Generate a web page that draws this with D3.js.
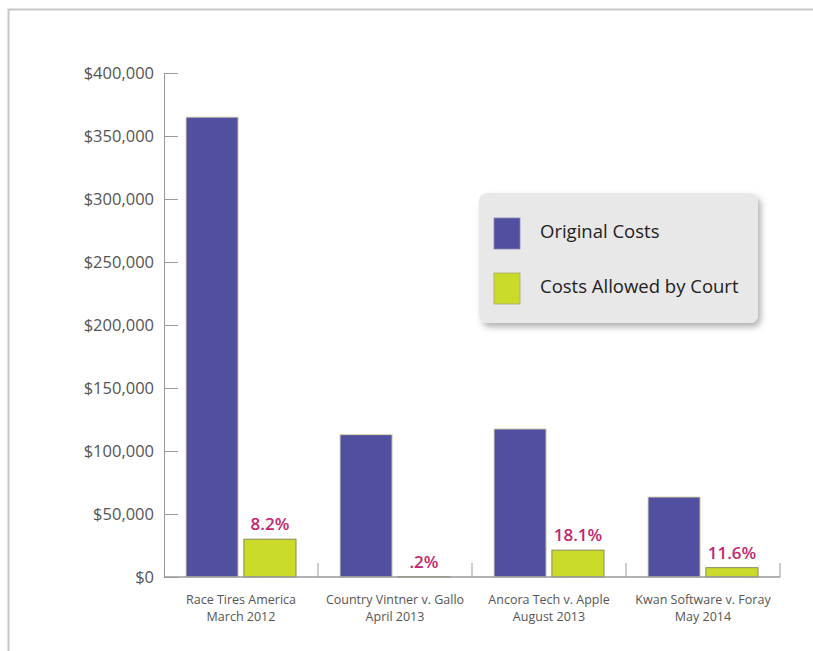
<!DOCTYPE html>
<html>
<head>
<meta charset="utf-8">
<script src="https://cdn.jsdelivr.net/npm/d3@7"></script>
<style>
  body { margin: 0; background: #fff; }
  text { font-family: "Open Sans", sans-serif; }
</style>
</head>
<body>
<div id="chart"></div>
<script>
  // data
  var cases = ["Race Tires America", "Country Vintner v. Gallo", "Ancora Tech v. Apple", "Kwan Software v. Foray"];
  var dates = ["March 2012", "April 2013", "August 2013", "May 2014"];
  var original = [365000, 113000, 117500, 63500];
  var allowed = [30000, 230, 21300, 7400];
  var pctLabels = ["8.2%", ".2%", "18.1%", "11.6%"];
  var seriesNames = ["Original Costs", "Costs Allowed by Court"];
  var yTicks = [0, 50000, 100000, 150000, 200000, 250000, 300000, 350000, 400000];

  var colors = {orig: "#514fa0", allowed: "#cbdb2a"};

  var W = 813, H = 651;
  var margin = {top: 73, left: 164, right: 34, bottom: 74};
  var width = W - margin.left - margin.right,
      height = H - margin.top - margin.bottom;

  var svg = d3.select("#chart").append("svg")
      .attr("width", W)
      .attr("height", H);

  var defs = svg.append("defs");
  var f = defs.append("filter").attr("id", "shadow")
      .attr("x", "-10%").attr("y", "-10%").attr("width", "130%").attr("height", "140%");
  f.append("feDropShadow").attr("dx", 3).attr("dy", 4).attr("stdDeviation", 3)
      .attr("flood-color", "#000").attr("flood-opacity", 0.3);

  // outer frame (top and left only)
  svg.append("path")
      .attr("d", "M8.5,651V9.5H813")
      .attr("fill", "none").attr("stroke", "#c8c8c8").attr("stroke-width", 2);

  var g = svg.append("g")
      .attr("transform", "translate(" + margin.left + "," + margin.top + ")");

  var x = d3.scaleBand().domain(cases).range([0, width + 1]);
  var x1 = d3.scaleBand().domain(["orig", "allowed"])
      .range([22, x.bandwidth() - 22]).paddingInner(0.1);
  var y = d3.scaleLinear().domain([0, 400000]).range([height, 0]);

  // y axis
  var yAxis = g.append("g")
      .call(d3.axisLeft(y).tickValues(yTicks).tickSize(0).tickPadding(10)
        .tickFormat(function (d) { return "$" + d3.format(",")(d); }));
  yAxis.select(".domain").attr("stroke", "#9a9a9a");
  yAxis.selectAll(".tick text")
      .attr("font-size", 16.5).attr("fill", "#555")
      .attr("font-family", "'Open Sans', sans-serif")
      .attr("dy", "0.35em");
  yAxis.selectAll(".tick").append("line")
      .attr("x1", 0).attr("x2", 14).attr("stroke", "#9a9a9a");

  // bars
  var groups = g.selectAll(".grp")
    .data(cases)
    .enter().append("g")
      .attr("transform", function (d) { return "translate(" + x(d) + ",0)"; });

  groups.append("rect")
      .attr("x", x1("orig"))
      .attr("width", x1.bandwidth())
      .attr("y", function (d, i) { return y(original[i]); })
      .attr("height", function (d, i) { return height - y(original[i]); })
      .attr("fill", colors.orig)
      .attr("stroke", "#d8d8b0").attr("stroke-width", 1);

  groups.append("rect")
      .attr("x", x1("allowed"))
      .attr("width", x1.bandwidth())
      .attr("y", function (d, i) { return y(allowed[i]); })
      .attr("height", function (d, i) { return height - y(allowed[i]); })
      .attr("fill", colors.allowed)
      .attr("stroke", "#8a8a5a").attr("stroke-width", 1);

  groups.append("text")
      .attr("x", x1("allowed") + x1.bandwidth() / 2)
      .attr("y", function (d, i) { return y(allowed[i]) - 9; })
      .attr("text-anchor", "middle")
      .attr("font-size", 17).attr("font-weight", 600)
      .attr("fill", "#c2266e")
      .text(function (d, i) { return pctLabels[i]; });

  // x axis
  g.append("line")
      .attr("x1", 0).attr("x2", width + 1)
      .attr("y1", height).attr("y2", height)
      .attr("stroke", "#9a9a9a").attr("stroke-width", 1.5);
  g.selectAll(".sep")
    .data(cases)
    .enter().append("line")
      .attr("x1", function (d) { return x(d) + x.bandwidth(); })
      .attr("x2", function (d) { return x(d) + x.bandwidth(); })
      .attr("y1", height).attr("y2", height - 14)
      .attr("stroke", "#9a9a9a");

  var lab = g.selectAll(".lab")
    .data(cases)
    .enter().append("text")
      .attr("text-anchor", "middle")
      .attr("font-size", 12.5).attr("fill", "#555")
      .attr("transform", function (d) { return "translate(" + (x(d) + x.bandwidth() / 2) + "," + (height + 27) + ")"; });
  lab.append("tspan").attr("x", 0).text(function (d) { return d; });
  lab.append("tspan").attr("x", 0).attr("dy", 17).text(function (d, i) { return dates[i]; });

  // legend
  var leg = svg.append("g").attr("transform", "translate(479,193)");
  leg.append("rect")
      .attr("width", 279).attr("height", 130).attr("rx", 8)
      .attr("fill", "#e8e8e8")
      .attr("filter", "url(#shadow)");
  var items = leg.selectAll(".item")
    .data(seriesNames)
    .enter().append("g")
      .attr("transform", function (d, i) { return "translate(15," + (25 + i * 55) + ")"; });
  items.append("rect")
      .attr("width", 26).attr("height", 31)
      .attr("fill", function (d, i) { return i === 0 ? colors.orig : colors.allowed; })
      .attr("stroke", function (d, i) { return i === 0 ? "#8888b8" : "#a8a870"; })
      .attr("stroke-width", 0.8);
  items.append("text")
      .attr("x", 46).attr("y", 14).attr("dy", "0.35em")
      .attr("font-size", 18.5).attr("fill", "#222")
      .text(function (d) { return d; });
</script>
</body>
</html>
